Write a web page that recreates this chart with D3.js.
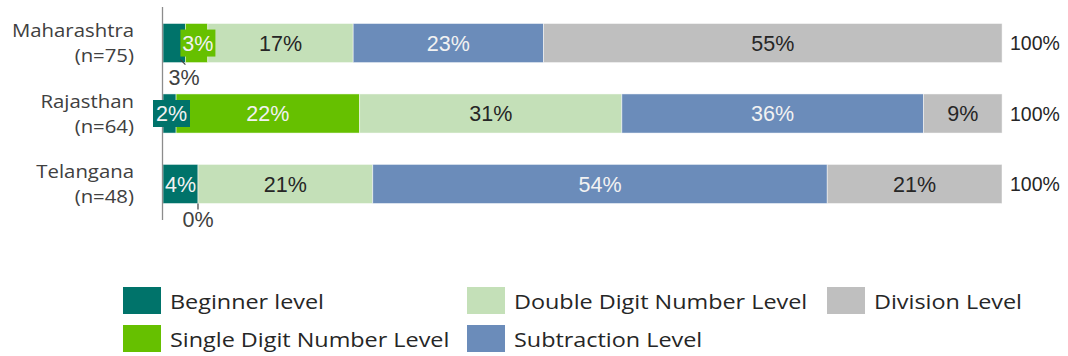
<!DOCTYPE html>
<html><head><meta charset="utf-8">
<script src="https://cdn.jsdelivr.net/npm/d3@7"></script>
<style>body{margin:0;background:#fff}svg{display:block}</style>
</head><body>
<script>
const categories = ["Maharashtra", "Rajasthan", "Telangana"];
const sampleSizes = ["(n=75)", "(n=64)", "(n=48)"];
const seriesNames = ["Beginner level", "Single Digit Number Level", "Double Digit Number Level", "Subtraction Level", "Division Level"];
const beginner = [2.67, 1.56, 4.17];
const singleDigit = [2.67, 21.88, 0];
const doubleDigit = [17.33, 31.25, 20.83];
const subtraction = [22.67, 35.94, 54.17];
const division = [54.67, 9.38, 20.83];
const totals = [100, 100, 100];

const colors = ["#00736a", "#66c000", "#c4e0b8", "#6b8cba", "#bfbfbf"];
const labelColors = ["#f2f2f2", "#f2f2f2", "#262626", "#f2f2f2", "#262626"];
const seriesValues = [beginner, singleDigit, doubleDigit, subtraction, division];

const W = 1068, H = 356;
const svg = d3.select("body").append("svg").attr("width", W).attr("height", H);

const x = d3.scaleLinear().domain([0, 100]).range([163, 1002]);
const y = d3.scaleBand().domain(categories).range([8, 219]).paddingInner(0.445).paddingOuter(0.22);

const stackData = categories.map((c, i) => {
  const o = {cat: c};
  seriesNames.forEach((s, k) => o[s] = seriesValues[k][i]);
  return o;
});
const stack = d3.stack().keys(seriesNames)(stackData);

const g = svg.append("g");
stack.forEach((layer, k) => {
  g.selectAll(null).data(layer).join("rect")
    .attr("x", d => x(d[0]))
    .attr("y", d => y(d.data.cat))
    .attr("width", d => Math.max(0, x(d[1]) - x(d[0])))
    .attr("height", y.bandwidth())
    .attr("fill", colors[k])
    .attr("stroke", "#ffffff").attr("stroke-opacity", 0.6).attr("stroke-width", 0.8);
});

// axis line
svg.append("line").attr("x1", 162.5).attr("x2", 162.5).attr("y1", 7).attr("y2", 220)
  .attr("stroke", "#8c8c8c").attr("stroke-width", 1.3);

const fontBar = "'Liberation Sans', Arial, sans-serif";
const fontCal = "'Open Sans', sans-serif";
const barFs = 21.5;
// special label placements
const special = {
  "0-0": {mode: "below", dx: 21, base: 85},
  "1-0": {mode: "box", bx: -5, bw: 35},
  "0-1": {mode: "box", bx: -10, bw: 37},
  "1-2": {mode: "below", dx: 0, base: 227}
};
stack.forEach((layer, k) => {
  layer.forEach((d, i) => {
    const v = d[1] - d[0];
    const label = Math.round(v) + "%";
    const cy = y(d.data.cat) + y.bandwidth() / 2;
    const sp = special[k + "-" + i];
    let cx = (x(d[0]) + x(d[1])) / 2;
    const barBottom = y(d.data.cat) + y.bandwidth();
    if (sp && sp.mode === "below") {
      const lx = x(d[0]) + sp.dx;
      if (k === 0) {
        svg.append("line").attr("x1", x(d[1]) - 5).attr("y1", barBottom - 3)
          .attr("x2", x(d[1])).attr("y2", barBottom + 2)
          .attr("stroke", "#404040").attr("stroke-width", 1.2);
      } else {
        svg.append("line").attr("x1", x(d[0])).attr("y1", barBottom)
          .attr("x2", x(d[0])).attr("y2", barBottom + 6)
          .attr("stroke", "#404040").attr("stroke-width", 1.2);
      }
      svg.append("text").attr("x", lx).attr("y", sp.base).attr("text-anchor", "middle")
        .attr("font-family", fontBar).attr("font-size", barFs)
        .attr("fill", "#404040").text(label);
      return;
    }
    if (sp && sp.mode === "box") {
      const bh = 27;
      const bx = x(d[0]) + sp.bx;
      svg.append("rect").attr("x", bx).attr("y", cy - bh / 2).attr("width", sp.bw).attr("height", bh)
        .attr("fill", colors[k]);
      cx = bx + sp.bw / 2;
    }
    svg.append("text").attr("x", cx).attr("y", cy + 7.8).attr("text-anchor", "middle")
      .attr("font-family", fontBar).attr("font-size", barFs)
      .attr("fill", labelColors[k]).text(label);
  });
});

// totals and category labels
categories.forEach((c, i) => {
  const cy = y(c) + y.bandwidth() / 2;
  svg.append("text").attr("x", 1010).attr("y", cy + 7)
    .attr("font-family", fontBar).attr("font-size", 19.5)
    .attr("fill", "#262626").text(totals[i] + "%");
  svg.append("text").attr("transform", `translate(134,${cy - 6}) scale(1.1,1)`)
    .attr("text-anchor", "end").attr("font-family", fontCal)
    .attr("font-size", 18.5).attr("fill", "#404040").text(c);
  svg.append("text").attr("transform", `translate(134,${cy + 19}) scale(1.1,1)`)
    .attr("text-anchor", "end").attr("font-family", fontCal)
    .attr("font-size", 18.5).attr("fill", "#404040").text(sampleSizes[i]);
});

// legend
const legendPos = [[123, 287], [123, 325], [467, 287], [467, 325], [827, 287]];
seriesNames.forEach((s, k) => {
  const [lx, ly] = legendPos[k];
  svg.append("rect").attr("x", lx).attr("y", ly).attr("width", 38).attr("height", 27).attr("fill", colors[k]);
  svg.append("text").attr("transform", `translate(${lx + 47},${ly + 22}) scale(1.2,1)`)
    .attr("font-family", fontCal).attr("font-size", 19.5).attr("fill", "#262626").text(s);
});
</script>
</body></html>
